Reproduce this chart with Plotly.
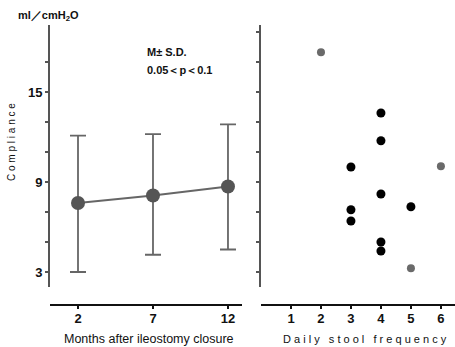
import plotly.graph_objects as go

# Left panel: compliance vs months after ileostomy closure (M ± S.D.)
months = [2, 7, 12]
mean_compliance = [7.6, 8.1, 8.7]
sd_plus = [4.5, 4.1, 4.15]
sd_minus = [4.6, 3.95, 4.2]
month_ticks = [2, 7, 12]

# Right panel: compliance vs daily stool frequency
freq_black = [4, 4, 3, 4, 5, 3, 3, 4, 4]
comp_black = [13.6, 11.75, 10.0, 8.2, 7.35, 7.15, 6.4, 5.0, 4.4]
freq_gray = [2, 6, 5]
comp_gray = [17.65, 10.05, 3.25]
freq_ticks = [1, 2, 3, 4, 5, 6]

y_labels_left = [3, 9, 15]
y_minor_left = [5, 7, 11, 13, 17]
y_ticks_right = [3, 5, 7, 9, 11, 13, 15, 17, 19]

fig = go.Figure()

fig.add_trace(go.Scatter(
    x=months, y=mean_compliance, mode="lines+markers",
    line=dict(color="#666666", width=2),
    marker=dict(color="#555555", size=14),
    error_y=dict(type="data", array=sd_plus, arrayminus=sd_minus,
                 color="#666666", thickness=1.8, width=8),
    xaxis="x", yaxis="y", showlegend=False,
))

fig.add_trace(go.Scatter(
    x=freq_black, y=comp_black, mode="markers",
    marker=dict(color="#000000", size=9),
    xaxis="x2", yaxis="y2", showlegend=False,
))
fig.add_trace(go.Scatter(
    x=freq_gray, y=comp_gray, mode="markers",
    marker=dict(color="#6a6a6a", size=8),
    xaxis="x2", yaxis="y2", showlegend=False,
))

tickfont = dict(family="Liberation Sans Narrow, Liberation Sans", size=13,
                color="#111111", weight="bold")
yrange = [2.0, 19.47]

fig.update_layout(
    width=455, height=347,
    margin=dict(l=50, r=0, t=25, b=42),
    paper_bgcolor="white", plot_bgcolor="white",
    xaxis=dict(domain=[0, 0.474], range=[0.133, 12.933], anchor="free", position=0,
               tickvals=month_ticks, ticks="outside", ticklen=3, tickwidth=2,
               tickcolor="#111111", showline=True, linecolor="#111111", linewidth=2,
               showgrid=False, zeroline=False, tickfont=tickfont,
               ticklabelstandoff=-2),
    yaxis=dict(domain=[0.0643, 1], range=yrange, anchor="x",
               tickvals=y_labels_left, ticks="outside",
               ticklen=3, tickwidth=1.5, tickcolor="#555555",
               minor=dict(tickvals=y_minor_left, ticks="outside", ticklen=3,
                          tickwidth=1.5, tickcolor="#555555", showgrid=False),
               showline=True, linecolor="#555555", linewidth=2,
               showgrid=False, zeroline=False, tickfont=tickfont),
    xaxis2=dict(domain=[0.521, 1], range=[0, 6.47], anchor="free", position=0,
                tickvals=freq_ticks, ticks="outside", ticklen=3, tickwidth=2,
                tickcolor="#111111", showline=True, linecolor="#111111", linewidth=2,
                showgrid=False, zeroline=False, tickfont=tickfont,
                ticklabelstandoff=-2),
    yaxis2=dict(domain=[0.0643, 1], range=yrange, anchor="x2",
                tickvals=y_ticks_right, showticklabels=False, ticks="outside",
                ticklen=3, tickwidth=1.5, tickcolor="#555555",
                showline=True, linecolor="#555555", linewidth=2,
                showgrid=False, zeroline=False),
)

bfont = dict(family="Liberation Sans", size=11, color="#111111")
annotations = [
    dict(text="<b>ml／cmH<sub>2</sub>O</b>", x=48, y=16, font=bfont, xanchor="center"),
    dict(text="<b>M± S.D.</b>", x=145, y=52, font=bfont, xanchor="left"),
    dict(text="<b>0.05＜p＜0.1</b>", x=145, y=70, font=bfont, xanchor="left"),
    dict(text="Months after ileostomy closure", x=149, y=339,
         font=dict(family="Liberation Sans", size=12.5, color="#111111"), xanchor="center"),
    dict(text="D a i l y   s t o o l   f r e q u e n c y", x=365, y=339,
         font=dict(family="Liberation Sans", size=11, color="#111111"), xanchor="center"),
    dict(text="C o m p l i a n c e", x=11, y=142,
         font=dict(family="Liberation Sans", size=10, color="#111111"),
         xanchor="center", textangle=-90),
]
for a in annotations:
    fig.add_annotation(text=a["text"],
                       x=(a["x"] - 50) / 405, y=(347 - a["y"] - 42) / 280,
                       xref="paper", yref="paper", showarrow=False,
                       xanchor=a["xanchor"], yanchor="middle", font=a["font"],
                       textangle=a.get("textangle", 0))

fig.write_html("out.html")
